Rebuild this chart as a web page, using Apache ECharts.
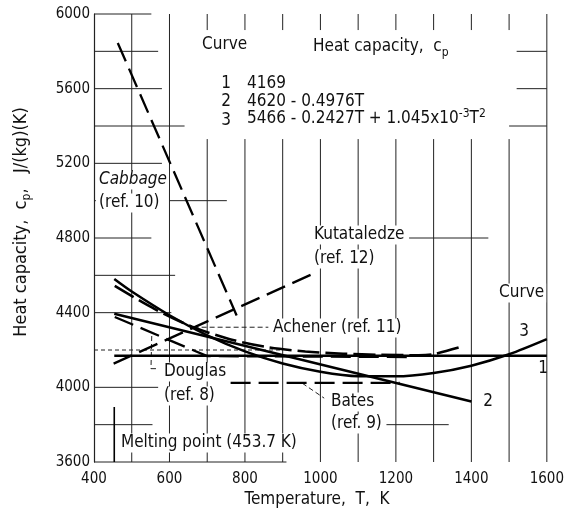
<!DOCTYPE html>
<html>
<head>
<meta charset="utf-8">
<script src="https://cdn.jsdelivr.net/npm/echarts@6/dist/echarts.min.js"></script>
<style>
  html, body { margin: 0; padding: 0; background: #fff; }
  #chart { width: 567px; height: 514px; }
</style>
</head>
<body>
<div id="chart"></div>
<script>
// Axis ticks
const xTicks = [400, 600, 800, 1000, 1200, 1400, 1600];
const yTicks = [3600, 4000, 4400, 4800, 5200, 5600, 6000];

// Recommended curves 1-3, temperature (K) and heat capacity (J/(kg)(K))
const curve1T = [453.7, 1600];
const curve1Cp = [4169, 4169];
const curve2T = [453.7, 1400];
const curve2Cp = [4394, 3924];
const curve3T = [453.7, 500, 600, 700, 800, 900, 1000, 1100, 1200, 1300, 1400, 1500, 1600];
const curve3Cp = [4580, 4513, 4386, 4279, 4193, 4128, 4084, 4060, 4059, 4077, 4116, 4177, 4258];

// Literature data
const cabbageT = [463, 778];
const cabbageCp = [5845, 4385];
const kutataledzeT = [452, 978];
const kutataledzeCp = [4127, 4606];
const douglasT = [455, 700, 1250];
const douglasCp = [4377, 4167, 4162];
const batesT = [762, 1210];
const batesCp = [4024, 4024];
const achenerT = [455, 560, 660, 760, 860, 960, 1060, 1160, 1260, 1300, 1370];
const achenerCp = [4543, 4420, 4325, 4258, 4215, 4192, 4180, 4174, 4172, 4178, 4215];

// Melting point marker
const meltT = [453.7, 453.7];
const meltCp = [3600, 3895];

const FONT = '"DejaVu Sans Condensed", "Liberation Sans Narrow", "DejaVu Sans", sans-serif';
const INK = '#111';

// Ruled lines of the chart sheet, as [x1, y1, x2, y2] in axis units
const rules = [
  [500, 3600, 500, 6000], [600, 3600, 600, 6000], [1600, 3600, 1600, 6000],
  [400, 6000, 552, 6000],
  [400, 5800, 570, 5800], [1520, 5800, 1600, 5800],
  [400, 5600, 580, 5600], [1520, 5600, 1600, 5600],
  [400, 5400, 640, 5400], [1500, 5400, 1600, 5400],
  [400, 5200, 580, 5200],
  [400, 5000, 405, 5000], [600, 5000, 752, 5000],
  [400, 4800, 552, 4800], [1235, 4800, 1445, 4800],
  [400, 4600, 615, 4600],
  [400, 4400, 605, 4400],
  [400, 4000, 570, 4000],
  [400, 3800, 555, 3800], [1175, 3800, 1340, 3800],
  [400, 3600, 910, 3600]
];
for (let t = 700; t <= 1500; t += 100) {
  rules.push([t, 5914, t, 6000]);
  rules.push([t, 3600, t, 5330]);
}
const dottedRules = [[400, 4200, 900, 4200]];

// Leader lines from labels to curves
const leaders = [
  [664, 4322, 862, 4322],
  [553, 4275, 551, 4100], [551, 4100, 566, 4100],
  [952, 4022, 1010, 3942]
];

function pairs(t, c) { return t.map((v, i) => [v, c[i]]); }

function segmentSeries(segs, width, dash) {
  return {
    type: 'custom', silent: true, z: 1, animation: false,
    data: segs, encode: { x: [0, 2], y: [1, 3] },
    renderItem(params, api) {
      const a = api.coord([api.value(0), api.value(1)]);
      const b = api.coord([api.value(2), api.value(3)]);
      return {
        type: 'line',
        shape: { x1: a[0], y1: a[1], x2: b[0], y2: b[1] },
        style: { stroke: '#222', lineWidth: width, lineDash: dash || null }
      };
    }
  };
}

function curve(name, t, c, dash, width, smooth) {
  return {
    name, type: 'line', data: pairs(t, c), symbol: 'none', silent: true,
    z: 5, animation: false, smooth: smooth || false,
    lineStyle: { color: '#000', width: width || 2.5, type: dash || 'solid' }
  };
}

function label(x, y, text, opts) {
  return {
    type: 'text', x, y, z: 100, silent: true,
    style: Object.assign({
      text, fontSize: 17, fontFamily: FONT, fill: INK,
      align: 'left', verticalAlign: 'middle'
    }, opts || {})
  };
}
const boxed = { backgroundColor: '#fff', padding: [1, 2] };
const subRich = { sub: { fontSize: 12, fontFamily: FONT, fill: INK, padding: [11, 0, 0, 0] } };
const supRich = { sup: { fontSize: 12, fontFamily: FONT, fill: INK, padding: [0, 0, 10, 0] } };

const chart = echarts.init(document.getElementById('chart'), null, { renderer: 'canvas' });

chart.setOption({
  animation: false,
  backgroundColor: '#fff',
  grid: { left: 94, right: 14, top: 14, bottom: 52 },
  xAxis: {
    type: 'value', min: xTicks[0], max: xTicks[xTicks.length - 1], interval: 200,
    axisLine: { show: false }, axisTick: { show: false }, splitLine: { show: false },
    axisLabel: { fontSize: 15, fontFamily: FONT, color: INK, margin: 10,
      formatter: v => xTicks.includes(v) ? String(v) : '' }
  },
  yAxis: {
    type: 'value', min: yTicks[0], max: yTicks[yTicks.length - 1], interval: 400,
    axisLine: { show: true, lineStyle: { color: '#222', width: 1.2 } },
    axisTick: { show: false }, splitLine: { show: false },
    axisLabel: { fontSize: 15, fontFamily: FONT, color: INK, margin: 4,
      formatter: v => yTicks.includes(v) ? String(v) : '' }
  },
  series: [
    segmentSeries(rules, 1),
    segmentSeries(dottedRules, 1, [4, 3]),
    segmentSeries(leaders, 1, [5, 3]),
    curve('Curve 1', curve1T, curve1Cp, 'solid', 2.5),
    curve('Curve 2', curve2T, curve2Cp, 'solid', 2.5),
    curve('Curve 3', curve3T, curve3Cp, 'solid', 2.5, 0.3),
    curve('Cabbage (ref. 10)', cabbageT, cabbageCp, [20, 8], 2.3),
    curve('Kutataledze (ref. 12)', kutataledzeT, kutataledzeCp, [20, 8], 2.3),
    curve('Douglas (ref. 8)', douglasT, douglasCp, [20, 8], 2.3),
    curve('Bates (ref. 9)', batesT, batesCp, [20, 8], 2.3),
    curve('Achener (ref. 11)', achenerT, achenerCp, [22, 6], 2.6, 0.3),
    curve('Melting point', meltT, meltCp, 'solid', 1.6)
  ],
  graphic: [
    // axis titles
    {
      type: 'text', x: 21, y: 222, rotation: Math.PI / 2, z: 100, silent: true,
      style: { text: 'Heat capacity,  c{sub|p},   J/(kg)(K)', fontSize: 18, fontFamily: FONT,
        fill: INK, align: 'center', verticalAlign: 'middle', rich: subRich }
    },
    label(317, 500, 'Temperature,  T,  K', { align: 'center' }),
    // header table
    label(202, 45, 'Curve'),
    label(313, 47, 'Heat capacity,  c{sub|p}', { rich: subRich }),
    label(226, 84, '1', { align: 'center' }),
    label(226, 102, '2', { align: 'center' }),
    label(226, 121, '3', { align: 'center' }),
    label(247, 84, '4169'),
    label(247, 102, '4620 - 0.4976T'),
    label(247, 119, '5466 - 0.2427T + 1.045x10{sup|-3}T{sup|2}', { rich: supRich }),
    // curve annotations
    label(97, 180, 'Cabbage', Object.assign({ fontStyle: 'italic' }, boxed)),
    label(97, 203, '(ref. 10)', boxed),
    label(312, 235, 'Kutataledze', boxed),
    label(312, 259, '(ref. 12)', boxed),
    label(271, 328, 'Achener (ref. 11)', boxed),
    label(162, 372, 'Douglas', boxed),
    label(162, 396, '(ref. 8)', boxed),
    label(329, 402, 'Bates', boxed),
    label(329, 424, '(ref. 9)', boxed),
    label(119, 443, 'Melting point (453.7 K)', boxed),
    label(497, 293, 'Curve', boxed),
    label(524, 332, '3', { align: 'center' }),
    label(543, 369, '1', { align: 'center' }),
    label(488, 402, '2', { align: 'center' })
  ]
});
</script>
</body>
</html>
